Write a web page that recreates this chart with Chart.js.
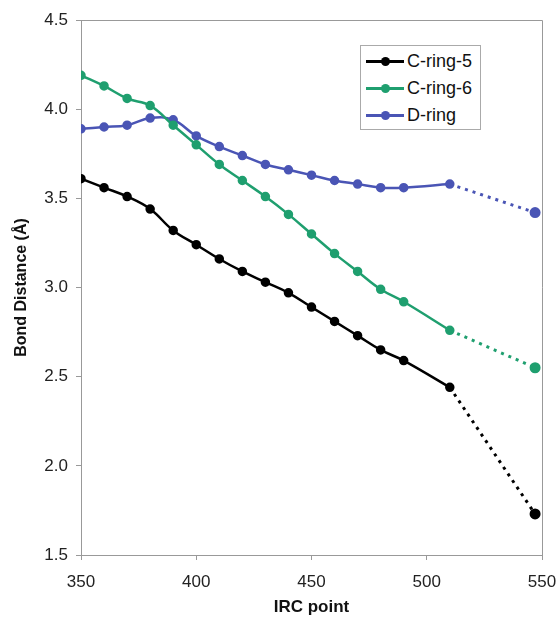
<!DOCTYPE html>
<html>
<head>
<meta charset="utf-8">
<script src="https://cdn.jsdelivr.net/npm/chart.js@4/dist/chart.umd.min.js"></script>
<style>
  body { margin: 0; background: #fff; }
  #wrap { position: relative; width: 559px; height: 622px; }
  #legend {
    position: absolute; left: 360px; top: 45px; width: 121px; height: 85px;
    border: 1px solid #aaa; background: #fff; box-sizing: border-box;
    font-family: "Liberation Sans", Arial, sans-serif; font-size: 18px; color: #111;
    padding-top: 2px;
  }
  .item { display: flex; align-items: center; height: 27px; }
  .sample { position: relative; width: 38px; height: 3px; margin-left: 5px; margin-right: 3px; }
  .sample span { position: absolute; left: 15px; top: -3px; width: 9px; height: 9px; border-radius: 50%; }
</style>
</head>
<body>
<div id="wrap">
  <canvas id="chart" width="559" height="622"></canvas>
  <div id="legend"></div>
</div>
<script>
const ircPoints = [350, 360, 370, 380, 390, 400, 410, 420, 430, 440, 450, 460, 470, 480, 490, 510];
const cRing5 = [3.61, 3.56, 3.51, 3.44, 3.32, 3.24, 3.16, 3.09, 3.03, 2.97, 2.89, 2.81, 2.73, 2.65, 2.59, 2.44];
const cRing6 = [4.19, 4.13, 4.06, 4.02, 3.91, 3.80, 3.69, 3.60, 3.51, 3.41, 3.30, 3.19, 3.09, 2.99, 2.92, 2.76];
const dRing = [3.89, 3.90, 3.91, 3.95, 3.94, 3.85, 3.79, 3.74, 3.69, 3.66, 3.63, 3.60, 3.58, 3.56, 3.56, 3.58];

// last (dotted) step
const endPoint = 547;
const endValues = [1.73, 2.55, 3.42];

const seriesNames = ["C-ring-5", "C-ring-6", "D-ring"];
const seriesColors = ["#000000", "#1f9f6f", "#4a55b5"];
const seriesValues = [cRing5, cRing6, dRing];

const yTicks = [1.5, 2.0, 2.5, 3.0, 3.5, 4.0, 4.5];
const xTicks = [350, 400, 450, 500, 550];

const datasets = [];
seriesValues.forEach((vals, i) => {
  datasets.push({
    label: seriesNames[i],
    data: vals.map((v, k) => ({ x: ircPoints[k], y: v })),
    borderColor: seriesColors[i],
    backgroundColor: seriesColors[i],
    borderWidth: 2.5,
    pointRadius: 3.5,
    pointHoverRadius: 3.5,
    tension: 0.4
  });
  datasets.push({
    label: seriesNames[i] + " (ext)",
    data: [
      { x: ircPoints[ircPoints.length - 1], y: vals[vals.length - 1] },
      { x: endPoint, y: endValues[i] }
    ],
    borderColor: seriesColors[i],
    backgroundColor: seriesColors[i],
    borderWidth: 3,
    borderDash: [3, 5],
    pointRadius: [0, 4],
    tension: 0
  });
});

// box round the plot area
const frame = {
  id: "frame",
  afterDraw(chart) {
    const a = chart.chartArea;
    const c = chart.ctx;
    c.save();
    c.strokeStyle = "#999";
    c.lineWidth = 1;
    c.beginPath();
    c.moveTo(a.left, a.top + 0.5);
    c.lineTo(a.right + 0.5, a.top + 0.5);
    c.lineTo(a.right + 0.5, a.bottom);
    c.stroke();
    c.restore();
  }
};

const font = "'Liberation Sans', Arial, sans-serif";

new Chart(document.getElementById("chart").getContext("2d"), {
  type: "line",
  data: { datasets: datasets },
  options: {
    responsive: false,
    animation: false,
    layout: { padding: { top: 20, right: 17, left: 0, bottom: 0 } },
    plugins: { legend: { display: false }, tooltip: { enabled: false } },
    scales: {
      x: {
        type: "linear",
        min: 350,
        max: 550,
        afterBuildTicks: s => { s.ticks = xTicks.map(v => ({ value: v })); },
        afterFit: s => { s.height = 67; s.paddingRight = 0; s.paddingLeft = 0; },
        grid: { drawOnChartArea: false, tickLength: 5, color: "#999" },
        border: { color: "#999" },
        ticks: { color: "#222", font: { family: font, size: 17 }, padding: 12, maxRotation: 0, minRotation: 0 },
        title: { display: true, text: "IRC point", color: "#111", font: { family: font, size: 17, weight: "bold" }, padding: { top: 16 } }
      },
      y: {
        min: 1.5,
        max: 4.5,
        afterBuildTicks: s => { s.ticks = yTicks.map(v => ({ value: v })); },
        afterFit: s => { s.width = 81; },
        grid: { drawOnChartArea: false, tickLength: 5, color: "#999" },
        border: { color: "#999" },
        ticks: { color: "#222", font: { family: font, size: 17 }, padding: 8, callback: v => v.toFixed(1) },
        title: { display: true, text: "Bond Distance (Å)", color: "#111", font: { family: font, size: 16, weight: "bold" }, padding: { top: 12, bottom: 2 } }
      }
    }
  },
  plugins: [frame]
});

// legend
const legend = document.getElementById("legend");
seriesNames.forEach((name, i) => {
  const row = document.createElement("div");
  row.className = "item";
  row.innerHTML = `<div class="sample" style="background:${seriesColors[i]}"><span style="background:${seriesColors[i]}"></span></div>${name}`;
  legend.appendChild(row);
});
</script>
</body>
</html>
